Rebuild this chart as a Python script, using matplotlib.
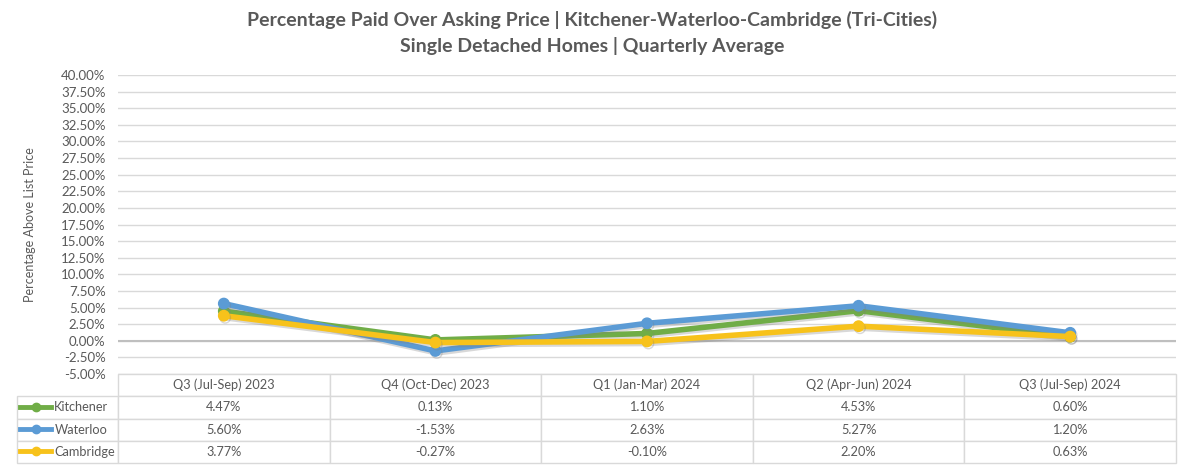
import matplotlib.pyplot as plt
import matplotlib.patheffects as pe
from matplotlib.ticker import PercentFormatter, MultipleLocator

plt.rcParams['font.family'] = ['Lato', 'DejaVu Sans']
plt.rcParams['text.color'] = '#595959'
plt.rcParams['axes.unicode_minus'] = False

quarters = ['Q3 (Jul-Sep) 2023', 'Q4 (Oct-Dec) 2023', 'Q1 (Jan-Mar) 2024',
            'Q2 (Apr-Jun) 2024', 'Q3 (Jul-Sep) 2024']
kitchener = [4.47, 0.13, 1.10, 4.53, 0.60]
waterloo = [5.60, -1.53, 2.63, 5.27, 1.20]
cambridge = [3.77, -0.27, -0.10, 2.20, 0.63]

names = ['Kitchener', 'Waterloo', 'Cambridge']
series = [kitchener, waterloo, cambridge]
colors = ['#70ad47', '#5b9bd5', '#f7c21b']
grey = '#595959'
gridc = '#d9d9d9'

fig = plt.figure(figsize=(11.84, 4.68), dpi=100)
ax = fig.add_axes([118/1184, 1-374/468, 1058/1184, 299/468])

xs = [i + 0.5 for i in range(len(quarters))]
shadow = [pe.SimpleLineShadow(offset=(1, -1.5), shadow_color='#7f7f7f', alpha=0.3), pe.Normal()]
for idx in [1, 0, 2]:
    ax.plot(xs, series[idx], color=colors[idx], lw=4, marker='o', ms=7.5,
            solid_joinstyle='round', path_effects=shadow, zorder=3 + idx)

ax.set_xlim(0, 5)
ax.set_ylim(-5, 40)
ax.yaxis.set_major_locator(MultipleLocator(2.5))
ax.yaxis.set_major_formatter(PercentFormatter(decimals=2))
ax.grid(axis='y', color=gridc, lw=1)
ax.axhline(0, color='#bfbfbf', lw=1.5, zorder=2)
ax.set_xticks([])
ax.tick_params(axis='y', length=0, labelsize=9.5, labelcolor=grey, pad=9)
for s in ax.spines.values():
    s.set_visible(False)
ax.set_ylabel('Percentage Above List Price', fontsize=9, color=grey, labelpad=18)

lab_w = 101 / 1058
cell_text = [[n] + ['%.2f%%' % v for v in s] for n, s in zip(names, series)]
tab = ax.table(cellText=cell_text, colLabels=[''] + quarters, cellLoc='center',
               bbox=[-lab_w, -89/299, 1 + lab_w, 89/299])
tab.auto_set_font_size(False)
for (r, c), cell in tab.get_celld().items():
    cell.set_edgecolor(gridc)
    cell.set_linewidth(1)
    cell.set_width(lab_w if c == 0 else 0.2)
    cell.get_text().set_fontsize(9.2)
    cell.get_text().set_color(grey)
    if c == 0:
        cell.get_text().set_ha('left')
        cell.PAD = 0.37
    if r == 0 and c == 0:
        cell.set_edgecolor('none')

# legend keys in the row label cells
for i, n in enumerate(names):
    yc = -(22 + 11 + i * 22) / 299
    ax.plot([-98/1058, -67/1058], [yc, yc], color=colors[i], lw=3.5,
            transform=ax.transAxes, clip_on=False)
    ax.plot([-82/1058], [yc], color=colors[i], marker='o', ms=6,
            transform=ax.transAxes, clip_on=False)

fig.text(0.5, 1 - 20/468, 'Percentage Paid Over Asking Price | Kitchener-Waterloo-Cambridge (Tri-Cities)',
         ha='center', va='center', fontsize=14, fontweight='bold', color=grey)
fig.text(0.5, 1 - 46/468, 'Single Detached Homes | Quarterly Average',
         ha='center', va='center', fontsize=14, fontweight='bold', color=grey)

plt.savefig('out.png', dpi=100)
